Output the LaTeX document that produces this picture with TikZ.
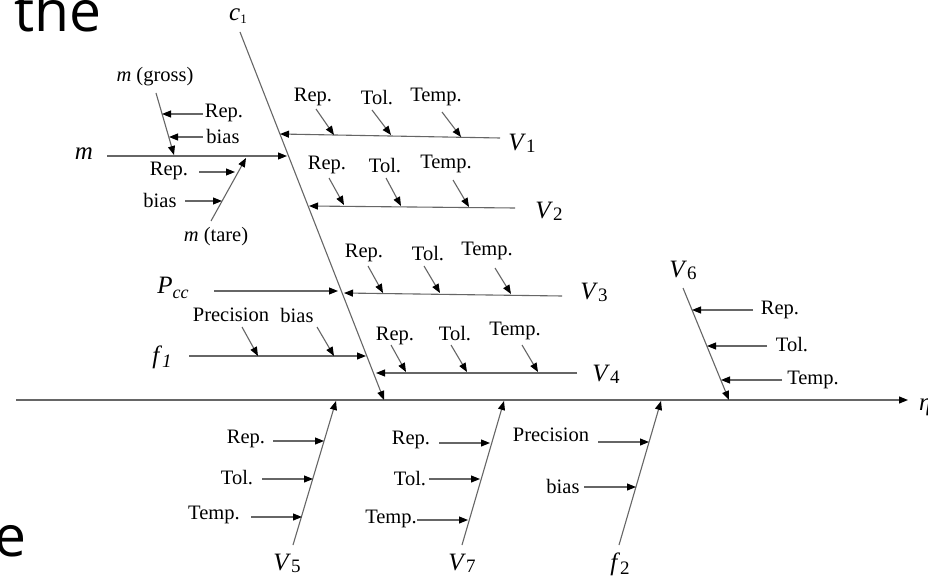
\documentclass[tikz,border=0pt]{standalone}
\usepackage{fontspec}
\setmainfont{Liberation Serif}
\newfontfamily\slidefont{Open Sans}
\usetikzlibrary{arrows.meta}
\newcommand\Vn[1]{\textit{V}\kern0.3pt\raisebox{-2pt}{\fontsize{19}{19}\selectfont #1}}
\tikzset{
  x=1pt, y=-1pt,
  bone/.style={draw=black!60, line width=1.1pt, -{Triangle[length=9pt,width=7pt,color=black]}},
  lbl/.style={font=\fontsize{20.5}{23}\selectfont, inner sep=0pt},
  big/.style={font=\fontsize{25}{27}\selectfont, inner sep=0pt},
  slide/.style={font=\slidefont\fontsize{57}{60}\selectfont, inner sep=0pt, anchor=base west},
}
\begin{document}
\begin{tikzpicture}
\useasboundingbox (0,0) rectangle (928,577);
\clip (0,0) rectangle (928,577);
\fill[white] (0,0) rectangle (928,577);

% slide text behind
\node[slide] (the) at (14,32) {the};
\node[slide] (ee) at (-6,556) {e};

% main axis
\coordinate (ax0) at (16,400);
\coordinate (ax1) at (908,400);
\draw[bone] (ax0) -- (ax1);
\node[big, anchor=west] (eta) at (919,407) {\textit{η}};

% c1 spine
\coordinate (c0) at (240,32);
\coordinate (c1) at (384,400);
\draw[bone] (c0) -- (c1);
\node[big] (lc1) at (238,16) {\textit{c}\raisebox{-3pt}{\fontsize{13}{13}\selectfont 1}};

% m branch
\coordinate (m0) at (107,156);
\coordinate (m1) at (287,156);
\draw[bone] (m0) -- (m1);
\node[big] (lm) at (84,154) {\textit{m}};
% m gross
\coordinate (g0) at (156,93);
\coordinate (g1) at (174,155);
\draw[bone] (g0) -- (g1);
\node[lbl] (lg) at (155,77) {\textit{m} (gross)};
\node[lbl] (lgr) at (224,113) {Rep.};
\node[lbl] (lgb) at (223,136) {bias};
\coordinate (gr0) at (203,114); \coordinate (gr1) at (162,114);
\coordinate (gb0) at (203,137); \coordinate (gb1) at (169,137);
\draw[bone] (gr0) -- (gr1);
\draw[bone] (gb0) -- (gb1);
% m tare
\coordinate (t0) at (211,221);
\coordinate (t1) at (246,158);
\draw[bone] (t0) -- (t1);
\node[lbl] (lt) at (216,237) {\textit{m} (tare)};
\node[lbl] (ltr) at (169,171) {Rep.};
\node[lbl] (ltb) at (160,200) {bias};
\coordinate (tr0) at (199,172); \coordinate (tr1) at (235,172);
\coordinate (tb0) at (185,201); \coordinate (tb1) at (222,201);
\draw[bone] (tr0) -- (tr1);
\draw[bone] (tb0) -- (tb1);

% V1
\coordinate (v10) at (500,138);
\coordinate (v11) at (280,134);
\draw[bone] (v10) -- (v11);
\node[big] (lv1) at (522,143) {\Vn{1}};
\node[lbl] (v1r) at (313,97) {Rep.};
\node[lbl] (v1t) at (377,98) {Tol.};
\node[lbl] (v1p) at (436,97) {Temp.};
\coordinate (v1ra) at (316,109); \coordinate (v1rb) at (334,135);
\coordinate (v1ta) at (372,110); \coordinate (v1tb) at (391,135);
\coordinate (v1pa) at (442,112); \coordinate (v1pb) at (461,137);
\draw[bone] (v1ra) -- (v1rb);
\draw[bone] (v1ta) -- (v1tb);
\draw[bone] (v1pa) -- (v1pb);

% V2
\coordinate (v20) at (515,208);
\coordinate (v21) at (309,206);
\draw[bone] (v20) -- (v21);
\node[big] (lv2) at (549,211) {\Vn{2}};
\node[lbl] (v2r) at (327,165) {Rep.};
\node[lbl] (v2t) at (385,166) {Tol.};
\node[lbl] (v2p) at (446,164) {Temp.};
\coordinate (v2ra) at (329,178); \coordinate (v2rb) at (344,205);
\coordinate (v2ta) at (386,178); \coordinate (v2tb) at (401,206);
\coordinate (v2pa) at (453,180); \coordinate (v2pb) at (469,207);
\draw[bone] (v2ra) -- (v2rb);
\draw[bone] (v2ta) -- (v2tb);
\draw[bone] (v2pa) -- (v2pb);

% Pcc
\coordinate (p0) at (214,291);
\coordinate (p1) at (338,291);
\draw[bone] (p0) -- (p1);
\node[big] (lp) at (173,288) {\textit{P}\raisebox{-5pt}{\fontsize{18}{18}\selectfont\itshape cc}};

% V3
\coordinate (v30) at (562,296);
\coordinate (v31) at (344,293);
\draw[bone] (v30) -- (v31);
\node[big] (lv3) at (594,292) {\Vn{3}};
\node[lbl] (v3r) at (364,253) {Rep.};
\node[lbl] (v3t) at (428,254) {Tol.};
\node[lbl] (v3p) at (487,251) {Temp.};
\coordinate (v3ra) at (368,266); \coordinate (v3rb) at (383,293);
\coordinate (v3ta) at (424,266); \coordinate (v3tb) at (440,293);
\coordinate (v3pa) at (495,268); \coordinate (v3pb) at (511,294);
\draw[bone] (v3ra) -- (v3rb);
\draw[bone] (v3ta) -- (v3tb);
\draw[bone] (v3pa) -- (v3pb);

% f1
\coordinate (f10) at (189,356);
\coordinate (f11) at (366,356);
\draw[bone] (f10) -- (f11);
\node[big] (lf1) at (162,357) {\textit{f}\raisebox{-4pt}{\fontsize{19}{19}\selectfont\itshape 1}};
\node[lbl] (f1p) at (231,315) {Precision};
\node[lbl] (f1b) at (297,315) {bias};
\coordinate (f1pa) at (242,327); \coordinate (f1pb) at (258,356);
\coordinate (f1ba) at (317,327); \coordinate (f1bb) at (334,356);
\draw[bone] (f1pa) -- (f1pb);
\draw[bone] (f1ba) -- (f1bb);

% V4
\coordinate (v40) at (577,373);
\coordinate (v41) at (376,373);
\draw[bone] (v40) -- (v41);
\node[big] (lv4) at (606,374) {\Vn{4}};
\node[lbl] (v4r) at (395,336) {Rep.};
\node[lbl] (v4t) at (455,334) {Tol.};
\node[lbl] (v4p) at (515,331) {Temp.};
\coordinate (v4ra) at (391,345); \coordinate (v4rb) at (406,372);
\coordinate (v4ta) at (451,345); \coordinate (v4tb) at (467,372);
\coordinate (v4pa) at (522,345); \coordinate (v4pb) at (538,372);
\draw[bone] (v4ra) -- (v4rb);
\draw[bone] (v4ta) -- (v4tb);
\draw[bone] (v4pa) -- (v4pb);

% V6
\coordinate (v60) at (683,288);
\coordinate (v61) at (729,400);
\draw[bone] (v60) -- (v61);
\node[big] (lv6) at (683,270) {\Vn{6}};
\node[lbl] (v6r) at (780,310) {Rep.};
\node[lbl] (v6t) at (792,345) {Tol.};
\node[lbl] (v6p) at (813,380) {Temp.};
\coordinate (v6ra) at (753,310); \coordinate (v6rb) at (692,310);
\coordinate (v6ta) at (767,346); \coordinate (v6tb) at (707,346);
\coordinate (v6pa) at (782,380); \coordinate (v6pb) at (721,380);
\draw[bone] (v6ra) -- (v6rb);
\draw[bone] (v6ta) -- (v6tb);
\draw[bone] (v6pa) -- (v6pb);

% V5
\coordinate (v50) at (293,545);
\coordinate (v51) at (336,401);
\draw[bone] (v50) -- (v51);
\node[big] (lv5) at (287,563) {\Vn{5}};
\node[lbl] (v5r) at (246,439) {Rep.};
\node[lbl] (v5t) at (237,478) {Tol.};
\node[lbl] (v5p) at (214,515) {Temp.};
\coordinate (v5ra) at (273,441); \coordinate (v5rb) at (324,441);
\coordinate (v5ta) at (262,479); \coordinate (v5tb) at (313,479);
\coordinate (v5pa) at (251,517); \coordinate (v5pb) at (302,517);
\draw[bone] (v5ra) -- (v5rb);
\draw[bone] (v5ta) -- (v5tb);
\draw[bone] (v5pa) -- (v5pb);

% V7
\coordinate (v70) at (462,545);
\coordinate (v71) at (504,401);
\draw[bone] (v70) -- (v71);
\node[big] (lv7) at (462,563) {\Vn{7}};
\node[lbl] (v7r) at (411,440) {Rep.};
\node[lbl] (v7t) at (410,479) {Tol.};
\node[lbl] (v7p) at (391,519) {Temp.};
\coordinate (v7ra) at (439,443); \coordinate (v7rb) at (490,443);
\coordinate (v7ta) at (429,479); \coordinate (v7tb) at (480,479);
\coordinate (v7pa) at (417,520); \coordinate (v7pb) at (468,520);
\draw[bone] (v7ra) -- (v7rb);
\draw[bone] (v7ta) -- (v7tb);
\draw[bone] (v7pa) -- (v7pb);

% f2
\coordinate (f20) at (619,545);
\coordinate (f21) at (661,401);
\draw[bone] (f20) -- (f21);
\node[big] (lf2) at (620,564) {\textit{f}\raisebox{-4pt}{\fontsize{19}{19}\selectfont 2}};
\node[lbl] (f2p) at (551,435) {Precision};
\node[lbl] (f2b) at (563,486) {bias};
\coordinate (f2pa) at (598,442); \coordinate (f2pb) at (649,442);
\coordinate (f2ba) at (584,487); \coordinate (f2bb) at (636,487);
\draw[bone] (f2pa) -- (f2pb);
\draw[bone] (f2ba) -- (f2bb);
\end{tikzpicture}
\end{document}
